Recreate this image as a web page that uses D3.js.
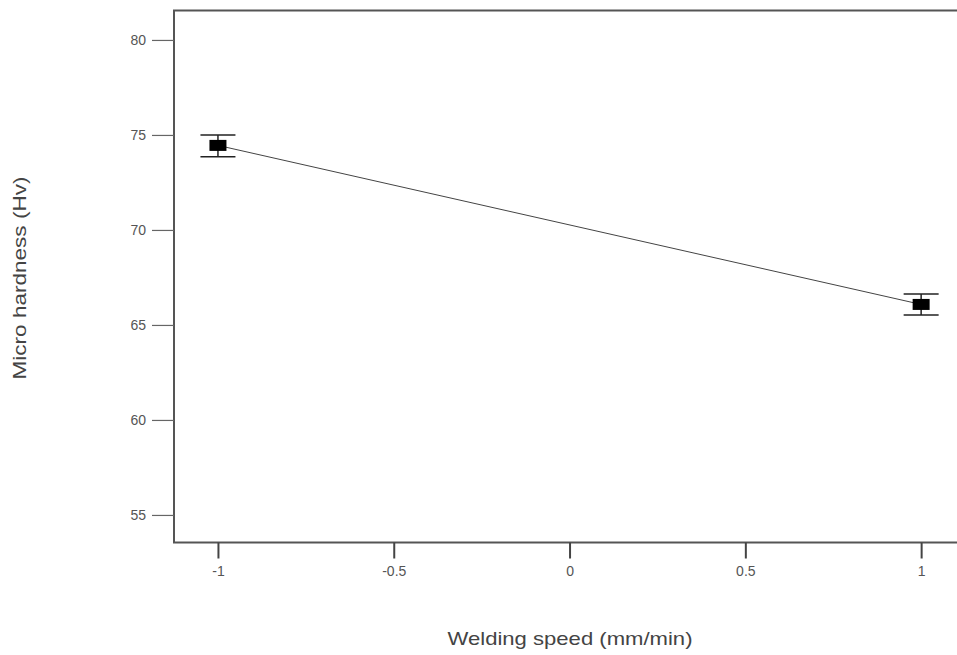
<!DOCTYPE html>
<html>
<head>
<meta charset="utf-8">
<script src="https://cdn.jsdelivr.net/npm/d3@7"></script>
<style>
  body { margin: 0; background: #fff; }
  svg { display: block; font-family: "Liberation Sans", Arial, sans-serif; }
</style>
</head>
<body>
<svg id="chart" width="957" height="655"></svg>
<script>
// data
var speed = [-1, 1];
var hardness = [74.45, 66.08];
var errLow = [0.6, 0.55];
var errHigh = [0.55, 0.55];
var xTicks = [-1, -0.5, 0, 0.5, 1];
var yTicks = [55, 60, 65, 70, 75, 80];

var svg = d3.select("#chart");
var margin = { left: 174, top: 10.5, right: 0, bottom: 112.5 };
var W = 957 - margin.left - margin.right,
    H = 655 - margin.top - margin.bottom;

var x = d3.scaleLinear().domain([-1.125, 1.102]).range([0, W]);
var y = d3.scaleLinear().domain([53.55, 81.55]).range([H, 0]);

var g = svg.append("g").attr("transform", "translate(" + margin.left + "," + margin.top + ")");

// frame (right side runs off the picture)
g.append("rect")
    .attr("x", 0).attr("y", 0)
    .attr("width", W + 10).attr("height", H)
    .attr("fill", "none").attr("stroke", "#555").attr("stroke-width", 2);

// axes, hyphen instead of unicode minus like the original
var plain = function (d) { return String(d); };
var yAxis = d3.axisLeft(y).tickValues(yTicks).tickSize(22).tickPadding(6).tickFormat(plain);
var xAxis = d3.axisBottom(x).tickValues(xTicks).tickSize(16).tickPadding(8).tickFormat(plain);

g.append("g").call(yAxis).call(function (a) {
    a.select(".domain").remove();
    a.selectAll("line").attr("stroke", "#666").attr("stroke-width", 1.2);
    a.selectAll("text").attr("fill", "#555").style("font-size", "14px");
});
g.append("g").attr("transform", "translate(0," + H + ")").call(xAxis).call(function (a) {
    a.select(".domain").remove();
    a.selectAll("line").attr("stroke", "#444").attr("stroke-width", 2);
    a.selectAll("text").attr("fill", "#555").style("font-size", "14px");
});

var pts = speed.map(function (s, i) {
    return { x: s, y: hardness[i], lo: hardness[i] - errLow[i], hi: hardness[i] + errHigh[i] };
});

// connecting line
g.append("path")
    .datum(pts)
    .attr("fill", "none").attr("stroke", "#444").attr("stroke-width", 1)
    .attr("d", d3.line().x(function (d) { return x(d.x); }).y(function (d) { return y(d.y); }));

// error bars
var eb = g.selectAll(".err").data(pts).enter().append("g").attr("class", "err")
    .attr("stroke", "#222").attr("stroke-width", 1.5);
eb.append("line")
    .attr("x1", function (d) { return x(d.x); }).attr("x2", function (d) { return x(d.x); })
    .attr("y1", function (d) { return y(d.lo); }).attr("y2", function (d) { return y(d.hi); });
eb.append("line")
    .attr("x1", function (d) { return x(d.x) - 17.5; }).attr("x2", function (d) { return x(d.x) + 17.5; })
    .attr("y1", function (d) { return y(d.hi); }).attr("y2", function (d) { return y(d.hi); });
eb.append("line")
    .attr("x1", function (d) { return x(d.x) - 17.5; }).attr("x2", function (d) { return x(d.x) + 17.5; })
    .attr("y1", function (d) { return y(d.lo); }).attr("y2", function (d) { return y(d.lo); });

// square markers
g.selectAll(".pt").data(pts).enter().append("rect")
    .attr("x", function (d) { return x(d.x) - 8.5; })
    .attr("y", function (d) { return y(d.y) - 5.5; })
    .attr("width", 17).attr("height", 11)
    .attr("fill", "#000");

// axis titles (original picture is a bit stretched sideways)
svg.append("text")
    .attr("x", 570).attr("y", 645)
    .attr("text-anchor", "middle")
    .attr("textLength", 245).attr("lengthAdjust", "spacingAndGlyphs")
    .attr("fill", "#444").style("font-size", "19px")
    .text("Welding speed (mm/min)");
svg.append("text")
    .attr("transform", "translate(26,278) rotate(-90)")
    .attr("text-anchor", "middle")
    .attr("textLength", 203).attr("lengthAdjust", "spacingAndGlyphs")
    .attr("fill", "#444").style("font-size", "19px")
    .text("Micro hardness (Hv)");
</script>
</body>
</html>
